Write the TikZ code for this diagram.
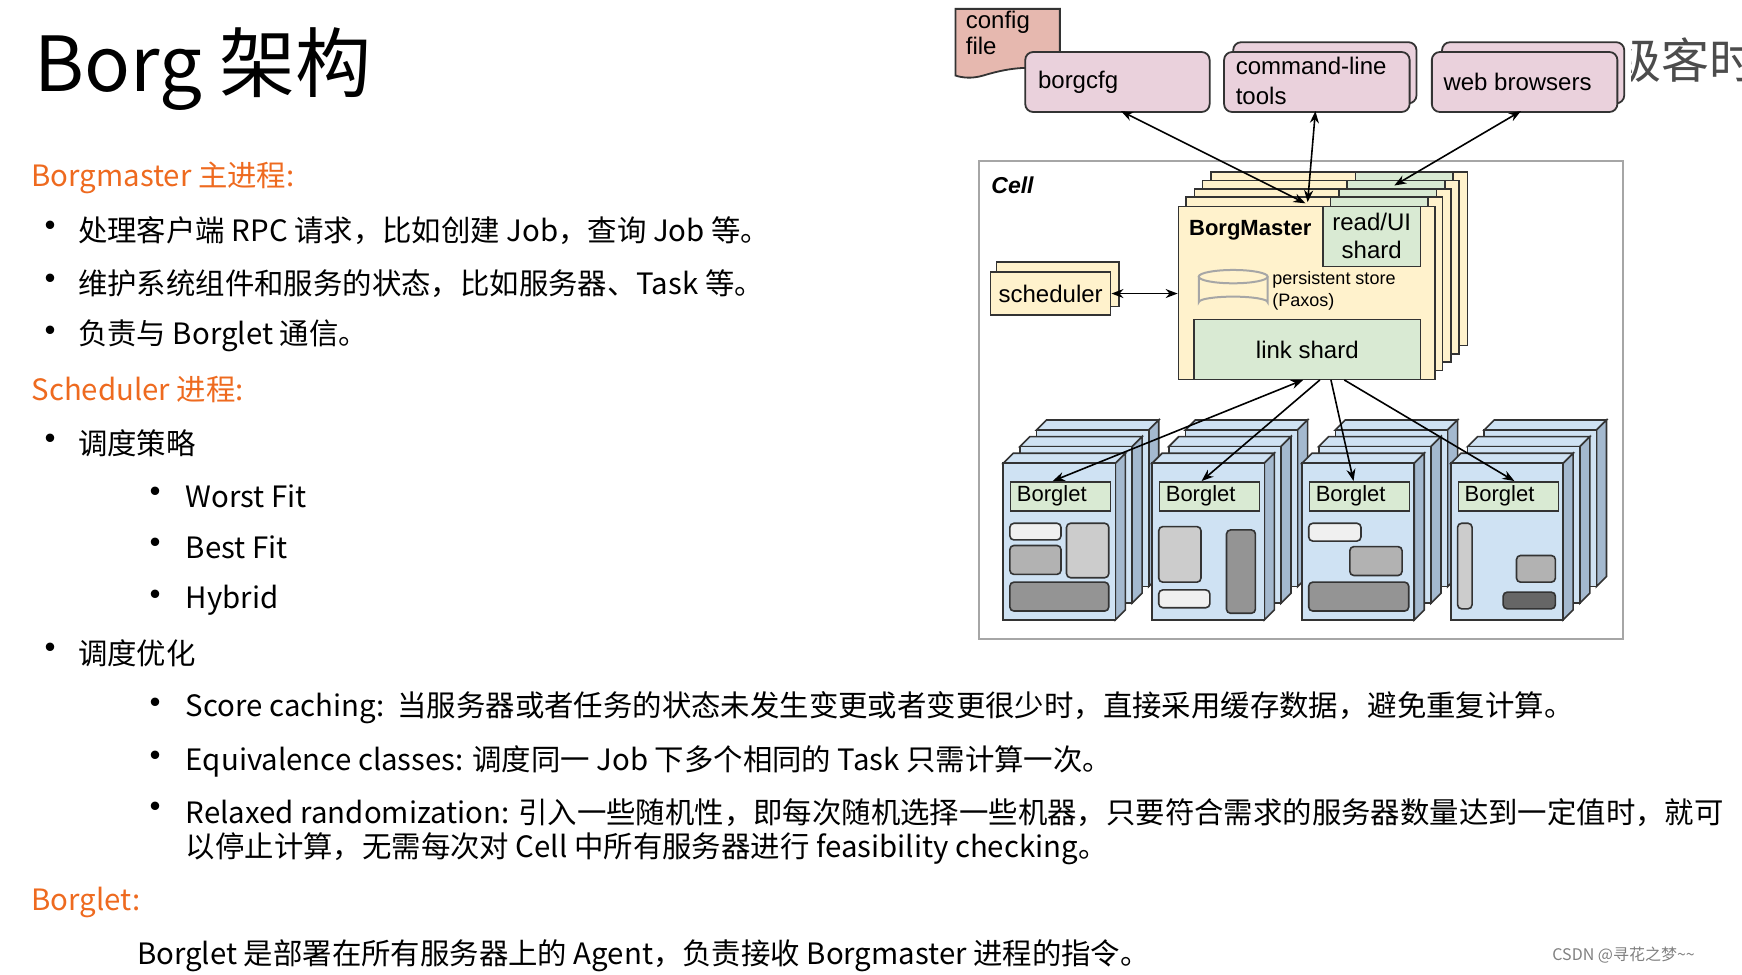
\documentclass[tikz,border=0pt]{standalone}
\usepackage{fontspec}
\setmainfont{Noto Sans CJK SC}
\newfontfamily\arial{Liberation Sans}
\usetikzlibrary{arrows.meta}
\definecolor{orng}{HTML}{EE6A1F}
\definecolor{pinkb}{HTML}{EAD1DC}
\definecolor{salm}{HTML}{E6B8AF}
\definecolor{yel}{HTML}{FFF2CC}
\definecolor{grn}{HTML}{D9EAD3}
\definecolor{blu}{HTML}{CFE2F3}
\definecolor{blud}{HTML}{A4B9CF}
\definecolor{edge}{HTML}{333333}
\tikzset{
 body/.style={anchor=west,inner sep=0,font=\fontsize{14.7}{18}\selectfont},
 bul/.style={anchor=west,inner sep=0,font=\fontsize{20}{20}\selectfont},
 head/.style={body,text=orng},
 dg/.style={font=\arial\fontsize{12}{14}\selectfont,align=left},
 cli/.style={draw=edge,line width=0.9pt,fill=pinkb,rounded corners=4pt},
 bm/.style={draw=edge,line width=0.8pt,fill=yel},
 gs/.style={draw=edge,line width=0.8pt,fill=grn},
 arr/.style={line width=0.8pt,{Stealth[length=6pt]}-{Stealth[length=6pt]}},
 arr1/.style={line width=0.8pt,-{Stealth[length=6pt]}},
 blk/.style={draw=edge,line width=0.8pt,rounded corners=2pt},
}
\newcommand{\bgcopy}[2]{%
 \fill[blu,draw=edge,line width=0.8pt] (#1,#2)--(#1+9,#2-9)--(#1+110,#2-9)--(#1+101,#2)--cycle;
 \fill[blud,draw=edge,line width=0.8pt] (#1+101,#2)--(#1+110,#2-9)--(#1+110,#2+132)--(#1+101,#2+141)--cycle;
 \fill[blu,draw=edge,line width=0.8pt] (#1,#2) rectangle (#1+101,#2+141);}
\newcommand{\bletgroup}[2]{%
 \bgcopy{#1+30}{387}\bgcopy{#1+15}{402}\bgcopy{#1}{417}
 \node[gs,minimum width=90*0.5555pt,minimum height=26*0.5555pt,inner sep=0,anchor=north west] (#2) at (#1+6,433) {};
 \node[anchor=west,inner sep=0,font=\arial\fontsize{11}{12}\selectfont] at (#1+12,446) {Borglet};}
\begin{document}
\begin{tikzpicture}[x=0.5555pt,y=-0.5555pt]
\useasboundingbox (0,0) rectangle (1568,877);
% left text
\node[anchor=west,inner sep=0,font=\fontsize{38}{40}\selectfont] (title) at (31,62) {Borg 架构};
\node[head] (h1) at (28,160) {Borgmaster 主进程:};
\foreach \y/\t in {208/处理客户端 RPC 请求，比如创建 Job，查询 Job 等。,255/维护系统组件和服务的状态，比如服务器、Task 等。,302/负责与 Borglet 通信。,399/调度策略,588/调度优化}
 {\node[bul] at (27,\y) {•}; \node[body] at (70,\y) {\t};}
\node[head] (h2) at (28,351) {Scheduler 进程:};
\foreach \y/\t in {447/Worst Fit,493/Best Fit,540/Hybrid,637/Score caching:~~当服务器或者任务的状态未发生变更或者变更很少时，直接采用缓存数据，避免重复计算。,685/Equivalence classes: 调度同一 Job 下多个相同的 Task 只需计算一次。,731/Relaxed randomization: 引入一些随机性，即每次随机选择一些机器，只要符合需求的服务器数量达到一定值时，就可}
 {\node[bul] at (122,\y) {•}; \node[body] at (167,\y) {\t};}
\node[body] at (167,764) {以停止计算，无需每次对 Cell 中所有服务器进行 feasibility checking。};
\node[head] (h3) at (28,812) {Borglet:};
\node[body] at (123,860) {Borglet 是部署在所有服务器上的 Agent，负责接收 Borgmaster 进程的指令。};
\node[anchor=west,inner sep=0,text=black!50,font=\fontsize{8}{9}\selectfont] (wm) at (1397,860) {CSDN @寻花之梦\textasciitilde\textasciitilde};
\node[anchor=west,inner sep=0,text=black!70,font=\fontsize{24}{28}\selectfont] (cut) at (1452,54) {级客时};
\fill[white] (1440,0) rectangle (1468,110);
% clients
\path[draw=edge,line width=0.9pt,fill=salm] (860,8) -- (954,8) -- (954,64) .. controls (925,58) and (905,62) .. (885,68) .. controls (875,71) and (866,70) .. (860,68) -- cycle;
\node[dg,anchor=north west,inner sep=0] (cfg) at (869,10) {config\\[-1pt]file};
\node[cli,minimum width=166*0.5555pt,minimum height=54*0.5555pt,anchor=north west] (borgcfg) at (922,46) {};
\node[dg,anchor=west] at (928,74) {borgcfg};
\draw[cli] (1110,38) rectangle (1275,93);
\node[cli,minimum width=167*0.5555pt,minimum height=54*0.5555pt,anchor=north west] (cmd) at (1101,46) {};
\node[dg,anchor=west] at (1106,73) {command-line\\[1pt]tools};
\draw[cli] (1298,38) rectangle (1462,93);
\node[cli,minimum width=167*0.5555pt,minimum height=54*0.5555pt,anchor=north west] (web) at (1288,46) {};
\node[dg,anchor=west] at (1293,74) {web browsers};
% cell
\draw[black!35,line width=1pt] (881,145) rectangle (1461,575);
\node[anchor=west,font=\arial\bfseries\itshape\fontsize{11.5}{13}\selectfont] (cell) at (886,167) {Cell};
% borgmaster stack
\foreach \i in {4,3,2,1}{
 \draw[bm] (1060+7.5*\i,185-7.5*\i) rectangle (1291+7.5*\i,341-7.5*\i);
 \draw[gs] (1190+7.5*\i,185-7.5*\i) rectangle (1278+7.5*\i,239-7.5*\i);}
\node[bm,minimum width=231*0.5555pt,minimum height=156*0.5555pt,anchor=north west,inner sep=0] (bm) at (1060,185) {};
\node[gs,minimum width=88*0.5555pt,minimum height=54*0.5555pt,anchor=north west,inner sep=0,dg,align=center] (rui) at (1190,185) {read/UI\\shard};
\node[anchor=west,font=\arial\bfseries\fontsize{11}{13}\selectfont] at (1064,207) {BorgMaster};
\draw[black!35,line width=1pt,fill=yel] (1079,249) -- (1079,272) arc[start angle=180,end angle=360,x radius=31,y radius=5] -- (1141,249);
\draw[black!35,line width=1pt] (1110,249) ellipse[x radius=31,y radius=6];
\node[anchor=west,inner sep=0,align=left,font=\arial\fontsize{9}{11}\selectfont] at (1145,262) {persistent store\\(Paxos)};
\node[gs,minimum width=204*0.5555pt,minimum height=54*0.5555pt,anchor=north west,inner sep=0,dg,align=center] (link) at (1074,287) {link shard};
% scheduler
\draw[bm] (897,236) rectangle (1007,276);
\node[bm,minimum width=108*0.5555pt,minimum height=39*0.5555pt,anchor=north west,inner sep=0,dg,align=center] (sch) at (891,244) {scheduler};
\draw[arr] (sch.east) -- (bm.west |- sch.east);
% client arrows
\coordinate (m1) at (1175,183); \coordinate (m2) at (1177,182); \coordinate (m3) at (1255,167);
\coordinate (c1) at (1009,100); \coordinate (c2) at (1184,100); \coordinate (c3) at (1369,100);
\draw[arr] (c1) -- (m1);
\draw[arr] (c2) -- (m2);
\draw[arr] (c3) -- (m3);
% borglets
\bletgroup{903}{b1}
\bletgroup{1037}{b2}
\bletgroup{1172}{b3}
\bletgroup{1306}{b4}
\draw[blk,fill=black!6] (909,471) rectangle (955,486);
\draw[blk,fill=black!20] (960,471) rectangle (998,520);
\draw[blk,fill=black!30] (909,491) rectangle (955,517);
\draw[blk,fill=black!42] (909,524) rectangle (998,550);
\draw[blk,fill=black!20] (1043,474) rectangle (1081,524);
\draw[blk,fill=black!42] (1104,477) rectangle (1130,552);
\draw[blk,fill=black!6] (1043,531) rectangle (1089,547);
\draw[blk,fill=black!6] (1178,471) rectangle (1225,487);
\draw[blk,fill=black!30] (1215,492) rectangle (1262,518);
\draw[blk,fill=black!42] (1178,524) rectangle (1268,550);
\draw[blk,fill=black!20] (1312,471) rectangle (1325,548);
\draw[blk,fill=black!30] (1365,500) rectangle (1400,524);
\draw[blk,fill=black!60] (1353,533) rectangle (1400,548);
\coordinate (l1) at (1173,342); \coordinate (l2) at (1188,342); \coordinate (l3) at (1198,342); \coordinate (l4) at (1210,342);
\draw[arr] (l1) -- ([xshift=-4pt]b1.north);
\draw[arr1] (l2) -- ([xshift=-4pt]b2.north);
\draw[arr1] (l3) -- ([xshift=-3pt]b3.north);
\draw[arr1] (l4) -- ([xshift=3pt]b4.north);
\end{tikzpicture}
\end{document}
